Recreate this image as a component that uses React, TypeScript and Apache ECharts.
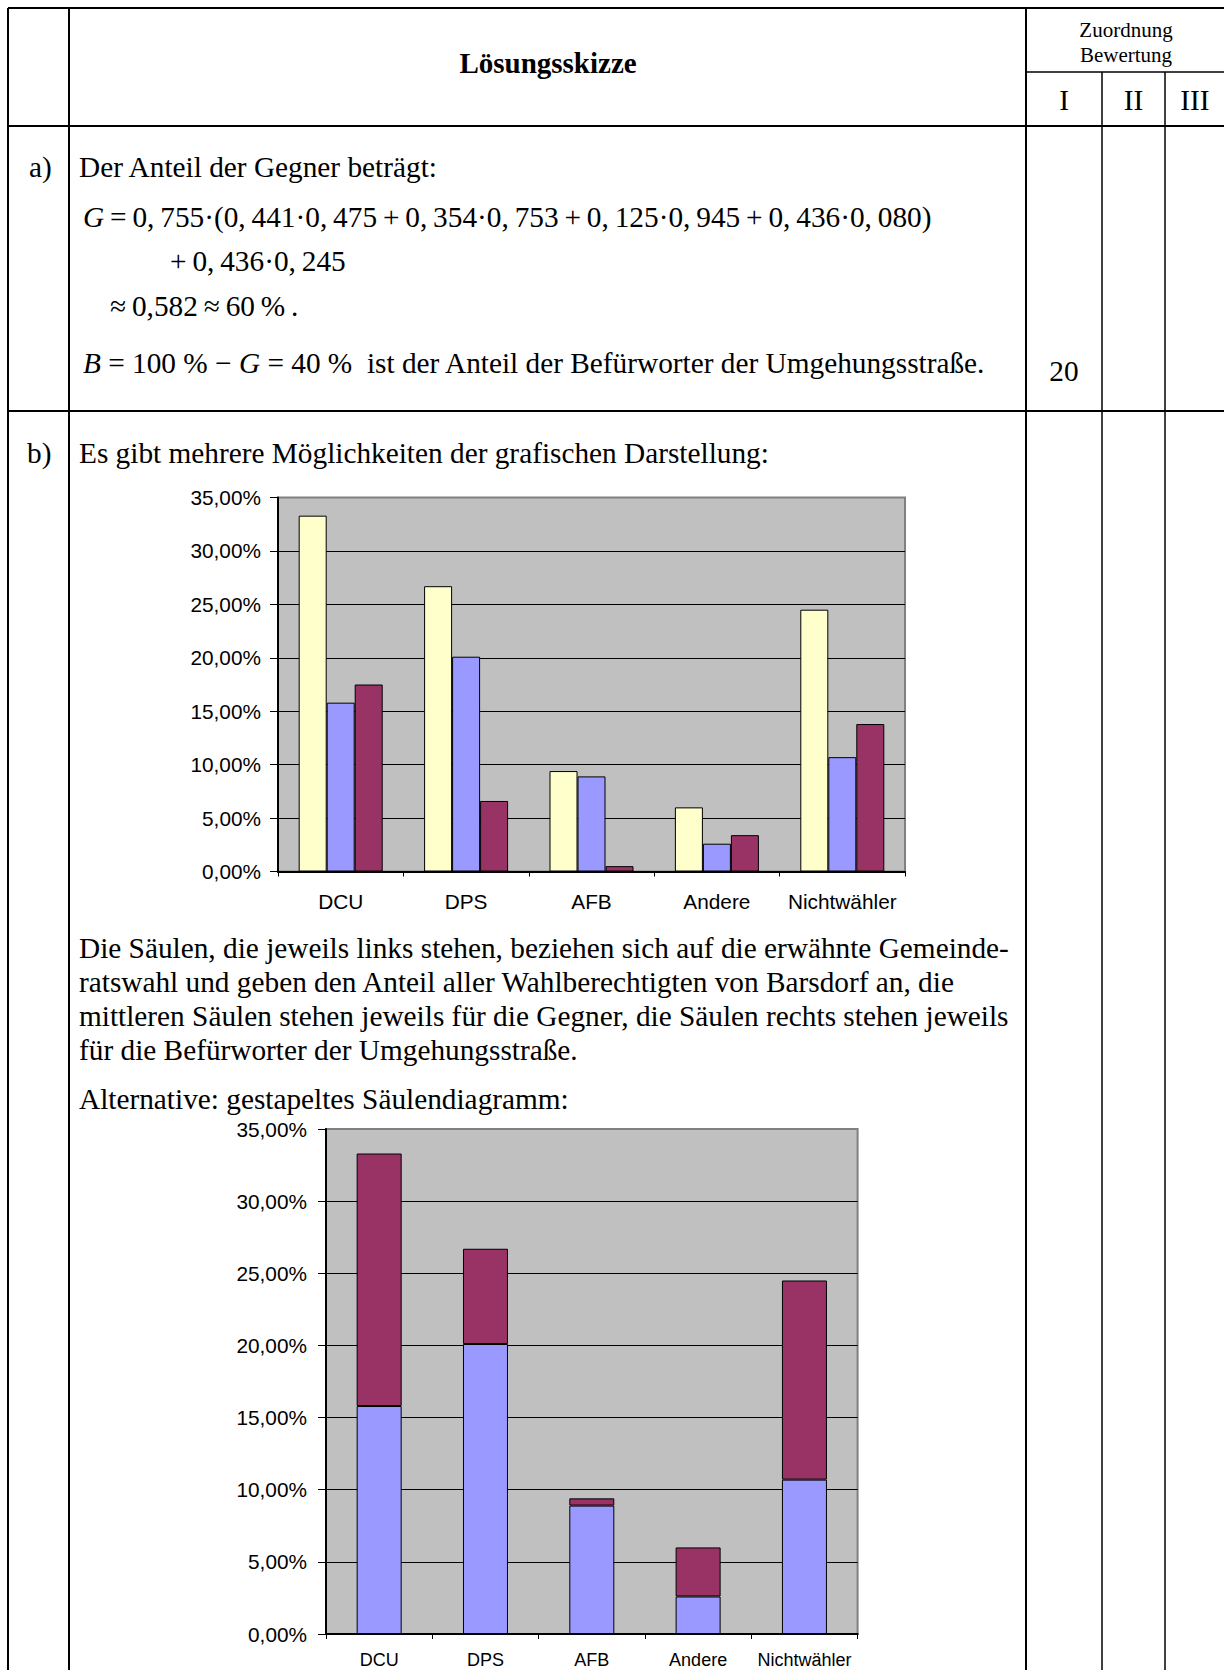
import React, { useEffect, useRef } from "react";
import * as echarts from "echarts";

const categories = ["DCU", "DPS", "AFB", "Andere", "Nichtwähler"];
const wahlAnteil = [33.3, 26.7, 9.4, 6.0, 24.5];
const gegner = [15.8, 20.1, 8.9, 2.6, 10.7];
const befuerworter = [17.5, 6.6, 0.5, 3.4, 13.8];
const yTickLabels = ["0,00%", "5,00%", "10,00%", "15,00%", "20,00%", "25,00%", "30,00%", "35,00%"];

const paragraph = [
  "Die Säulen, die jeweils links stehen, beziehen sich auf die erwähnte Gemeinde-",
  "ratswahl und geben den Anteil aller Wahlberechtigten von Barsdorf an, die",
  "mittleren Säulen stehen jeweils für die Gegner, die Säulen rechts stehen jeweils",
  "für die Befürworter der Umgehungsstraße.",
];

const SERIF = "'Liberation Serif', 'Times New Roman', serif";
const SANS = "'Liberation Sans', Arial, sans-serif";
const TS = "\u2009";
const FS = 29.3;

function line(x1: number, y1: number, x2: number, y2: number, w = 2) {
  return {
    type: "line",
    silent: true,
    shape: { x1, y1, x2, y2 },
    style: { stroke: "#000", lineWidth: w },
  };
}

function txt(x: number, y: number, text: string, extra: any = {}) {
  return {
    type: "text",
    silent: true,
    x,
    y,
    style: {
      text,
      fontFamily: SERIF,
      fontSize: FS,
      fill: "#000",
      align: "left",
      verticalAlign: "middle",
      rich: { i: { fontStyle: "italic", fontFamily: SERIF, fontSize: FS } },
      ...extra,
    },
  };
}

function yAxisCfg(gridIndex: number, margin: number) {
  return {
    type: "value",
    gridIndex,
    min: 0,
    max: 35,
    interval: 5,
    axisLine: { show: true, lineStyle: { color: "#000", width: 2 } },
    axisTick: { show: true, inside: false, length: 8, lineStyle: { color: "#000", width: 1 } },
    axisLabel: {
      fontFamily: SANS,
      fontSize: 20.8,
      color: "#000",
      margin,
      formatter: (v: number) => yTickLabels[Math.round(v / 5)],
    },
    splitLine: { show: true, showMaxLine: false, showMinLine: false, lineStyle: { color: "#000", width: 1 } },
  };
}

function xAxisCfg(gridIndex: number, fontSize: number, margin: number) {
  return {
    type: "category",
    gridIndex,
    data: categories,
    boundaryGap: true,
    axisLine: { show: true, lineStyle: { color: "#000", width: 2 } },
    axisTick: { show: true, alignWithLabel: false, interval: 0, length: 5, lineStyle: { color: "#000", width: 1 } },
    axisLabel: { fontFamily: SANS, fontSize, color: "#000", margin, interval: 0 },
    splitLine: { show: false },
  };
}

export default function App() {
  const ref = useRef<HTMLDivElement>(null);
  useEffect(() => {
    if (!ref.current) return;
    const chart = echarts.init(ref.current, null, { renderer: "svg" });
    const barBorder = { borderColor: "#000", borderWidth: 1 };

    const graphics: any[] = [
      // table lines
      line(8, 8, 1226, 8),
      line(8, 8, 8, 1672),
      line(69, 8, 69, 1672),
      line(1026, 8, 1026, 1672),
      line(1026, 72, 1226, 72, 1.5),
      line(1102, 72, 1102, 1672, 1.5),
      line(1165, 72, 1165, 1672, 1.5),
      line(8, 126, 1226, 126),
      line(8, 411, 1226, 411),
      // header
      txt(548, 63, "Lösungsskizze", { align: "center", fontWeight: "bold", fontSize: 29 }),
      txt(1126, 29.5, "Zuordnung", { align: "center", fontSize: 21 }),
      txt(1126, 54.5, "Bewertung", { align: "center", fontSize: 21 }),
      txt(1064, 100, "I", { align: "center" }),
      txt(1133.5, 100, "II", { align: "center" }),
      txt(1195, 100, "III", { align: "center" }),
      // part a
      txt(29, 167, "a)"),
      txt(79, 167, "Der Anteil der Gegner beträgt:"),
      txt(
        83,
        217,
        `{i|G}${TS}=${TS}0,${TS}755·(0,${TS}441·0,${TS}475${TS}+${TS}0,${TS}354·0,${TS}753${TS}+${TS}0,${TS}125·0,${TS}945${TS}+${TS}0,${TS}436·0,${TS}080)`
      ),
      txt(170, 261, `+${TS}0,${TS}436·0,${TS}245`),
      txt(110, 306, `≈${TS}0,582${TS}≈${TS}60${TS}%${TS}.`),
      txt(83, 363, "{i|B} = 100 % − {i|G} = 40 %  ist der Anteil der Befürworter der Umgehungsstraße."),
      txt(1064, 371, "20", { align: "center" }),
      // part b
      txt(27, 453, "b)"),
      txt(79, 453, "Es gibt mehrere Möglichkeiten der grafischen Darstellung:"),
      txt(79, 948, paragraph[0]),
      txt(79, 982, paragraph[1]),
      txt(79, 1016, paragraph[2]),
      txt(79, 1050, paragraph[3]),
      txt(79, 1099, "Alternative: gestapeltes Säulendiagramm:"),
    ];

    chart.setOption({
      animation: false,
      textStyle: { fontFamily: SANS },
      grid: [
        {
          left: 278,
          top: 497.5,
          width: 627,
          height: 374,
          show: true,
          backgroundColor: "#C0C0C0",
          borderColor: "#808080",
          borderWidth: 2,
          containLabel: false,
          outerBoundsMode: "none",
        },
        {
          left: 326,
          top: 1129,
          width: 531.6,
          height: 505,
          show: true,
          backgroundColor: "#C0C0C0",
          borderColor: "#808080",
          borderWidth: 2,
          containLabel: false,
          outerBoundsMode: "none",
        },
      ],
      xAxis: [xAxisCfg(0, 20.8, 19.5), xAxisCfg(1, 18, 17)],
      yAxis: [yAxisCfg(0, 17), yAxisCfg(1, 19)],
      series: [
        {
          type: "bar",
          name: "Wahl",
          xAxisIndex: 0,
          yAxisIndex: 0,
          data: wahlAnteil,
          barWidth: 28,
          barGap: "0%",
          itemStyle: { color: "#FFFFCC", ...barBorder },
        },
        {
          type: "bar",
          name: "Gegner",
          xAxisIndex: 0,
          yAxisIndex: 0,
          data: gegner,
          barWidth: 28,
          barGap: "0%",
          itemStyle: { color: "#9999FF", ...barBorder },
        },
        {
          type: "bar",
          name: "Befürworter",
          xAxisIndex: 0,
          yAxisIndex: 0,
          data: befuerworter,
          barWidth: 28,
          barGap: "0%",
          itemStyle: { color: "#993366", ...barBorder },
        },
        {
          type: "bar",
          name: "Gegner (gestapelt)",
          xAxisIndex: 1,
          yAxisIndex: 1,
          stack: "s",
          data: gegner,
          barWidth: 45,
          itemStyle: { color: "#9999FF", ...barBorder },
        },
        {
          type: "bar",
          name: "Befürworter (gestapelt)",
          xAxisIndex: 1,
          yAxisIndex: 1,
          stack: "s",
          data: befuerworter,
          barWidth: 45,
          itemStyle: { color: "#993366", ...barBorder },
        },
      ],
      graphic: graphics,
    });
    return () => chart.dispose();
  }, []);

  return (
    <div
      ref={ref}
      style={{ position: "absolute", left: 0, top: 0, width: 1224, height: 1670, background: "#fff", overflow: "hidden" }}
    />
  );
}
